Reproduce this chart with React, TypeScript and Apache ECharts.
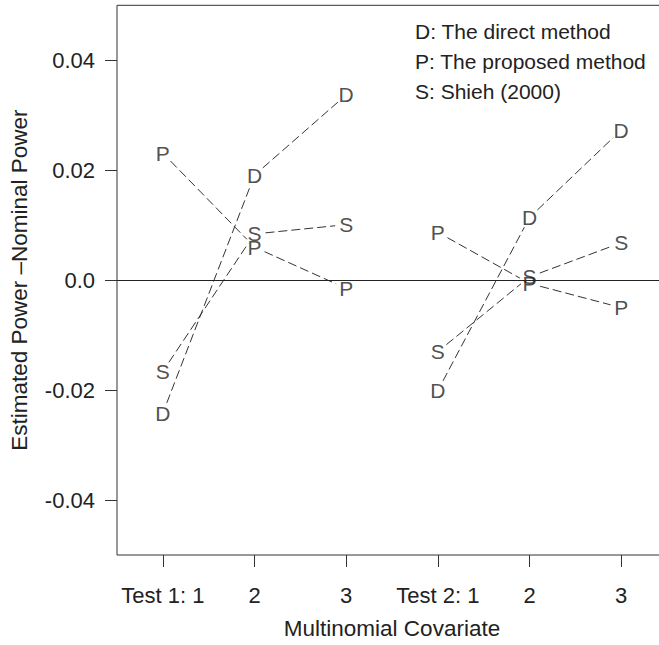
import React, { useEffect, useRef } from "react";
import * as echarts from "echarts";

const xPositions = [1, 2, 3, 4, 5, 6];
const xTickLabels = ["Test 1: 1", "2", "3", "Test 2: 1", "2", "3"];
const yTickValues = [-0.04, -0.02, 0, 0.02, 0.04];
const yTickLabels = ["-0.04", "-0.02", "0.0", "0.02", "0.04"];
const directValues = [-0.0242, 0.0191, 0.0337, -0.0201, 0.0114, 0.0273];
const proposedValues = [0.0231, 0.006, -0.0015, 0.0087, -0.0006, -0.005];
const shiehValues = [-0.0166, 0.0084, 0.0101, -0.013, 0.0006, 0.0068];
const methodLetters = ["D", "P", "S"];
const legendTexts = ["D: The direct method", "P: The proposed method", "S: Shieh (2000)"];
const testGroups = [
  [0, 1, 2],
  [3, 4, 5],
];
const xTitle = "Multinomial Covariate";
const yTitle = "Estimated Power \u2013Nominal Power";

const FONT = "'Liberation Sans', Arial, Helvetica, sans-serif";
const INK = "#222";

export default function App() {
  const ref = useRef<HTMLDivElement>(null);
  useEffect(() => {
    if (!ref.current) return;
    const chart = echarts.init(ref.current, undefined, { renderer: "svg" });
    const methods = [directValues, proposedValues, shiehValues];
    const gap = 11;

    const segmentSeries = methods.map((vals, mi) => {
      const segs: number[][] = [];
      testGroups.forEach((g) => {
        for (let i = 0; i < g.length - 1; i++) {
          const a = g[i];
          const b = g[i + 1];
          segs.push([xPositions[a], vals[a], xPositions[b], vals[b]]);
        }
      });
      return {
        type: "custom",
        name: methodLetters[mi] + "-lines",
        data: segs,
        encode: { x: [0, 2], y: [1, 3] },
        clip: false,
        silent: true,
        renderItem: (params: any, api: any) => {
          const p1 = api.coord([api.value(0), api.value(1)]);
          const p2 = api.coord([api.value(2), api.value(3)]);
          const dx = p2[0] - p1[0];
          const dy = p2[1] - p1[1];
          const len = Math.hypot(dx, dy);
          if (len <= 2 * gap) return null;
          const ux = dx / len;
          const uy = dy / len;
          return {
            type: "line",
            shape: {
              x1: p1[0] + ux * gap,
              y1: p1[1] + uy * gap,
              x2: p2[0] - ux * gap,
              y2: p2[1] - uy * gap,
            },
            style: { stroke: "#333", lineWidth: 1, lineDash: [9, 4] },
          };
        },
      };
    });

    const letterSeries = methods.map((vals, mi) => ({
      type: "scatter",
      name: methodLetters[mi],
      data: xPositions.map((x, i) => [x, vals[i]]),
      symbol: "circle",
      symbolSize: 2,
      itemStyle: { color: "rgba(0,0,0,0)" },
      silent: true,
      label: {
        show: true,
        position: "inside",
        formatter: () => methodLetters[mi],
        fontSize: 21,
        fontFamily: FONT,
        color: INK,
      },
      ...(mi === 0
        ? {
            markLine: {
              silent: true,
              symbol: ["none", "none"],
              label: { show: false },
              lineStyle: { color: "#222", width: 1, type: "solid" },
              data: [{ yAxis: 0 }],
            },
          }
        : {}),
    }));

    const option: any = {
      animation: false,
      backgroundColor: "#fff",
      grid: {
        left: 115,
        top: 5.3,
        right: 13,
        bottom: 87.3,
        show: true,
        borderColor: "#333",
        borderWidth: 1,
        backgroundColor: "transparent",
      },
      xAxis: {
        type: "value",
        min: 0.5,
        max: 6.5,
        name: xTitle,
        nameLocation: "middle",
        nameGap: 62,
        nameTextStyle: { fontSize: 22.5, fontFamily: FONT, color: INK },
        axisLine: { show: false, onZero: false },
        splitLine: { show: false },
        axisTick: {
          show: true,
          length: 12,
          customValues: xPositions,
          lineStyle: { color: "#333", width: 1 },
        },
        axisLabel: {
          customValues: xPositions,
          margin: 29,
          fontSize: 22,
          fontFamily: FONT,
          color: INK,
          formatter: (v: number) => {
            const i = xPositions.findIndex((p) => Math.abs(p - v) < 1e-9);
            return i >= 0 ? xTickLabels[i] : "";
          },
        },
      },
      yAxis: {
        type: "value",
        min: -0.05,
        max: 0.05,
        name: yTitle,
        nameLocation: "middle",
        nameGap: 86,
        nameTextStyle: { fontSize: 22.5, fontFamily: FONT, color: INK },
        axisLine: { show: false, onZero: false },
        splitLine: { show: false },
        axisTick: {
          show: true,
          length: 12,
          customValues: yTickValues,
          lineStyle: { color: "#333", width: 1 },
        },
        axisLabel: {
          customValues: yTickValues,
          margin: 22,
          fontSize: 22,
          fontFamily: FONT,
          color: INK,
          formatter: (v: number) => {
            const i = yTickValues.findIndex((p) => Math.abs(p - v) < 1e-9);
            return i >= 0 ? yTickLabels[i] : "";
          },
        },
      },
      graphic: legendTexts.map((t, i) => ({
        type: "text",
        left: 415,
        top: 21 + i * 30,
        silent: true,
        style: {
          text: t,
          fontSize: 21,
          fontFamily: FONT,
          fill: INK,
        },
      })),
      series: [...segmentSeries, ...letterSeries],
    };
    chart.setOption(option);
    return () => chart.dispose();
  }, []);

  return (
    <div
      style={{
        position: "fixed",
        left: 0,
        top: 0,
        width: 659,
        height: 645,
        overflow: "hidden",
        background: "#fff",
      }}
    >
      <div ref={ref} style={{ width: 680, height: 645 }} />
    </div>
  );
}
